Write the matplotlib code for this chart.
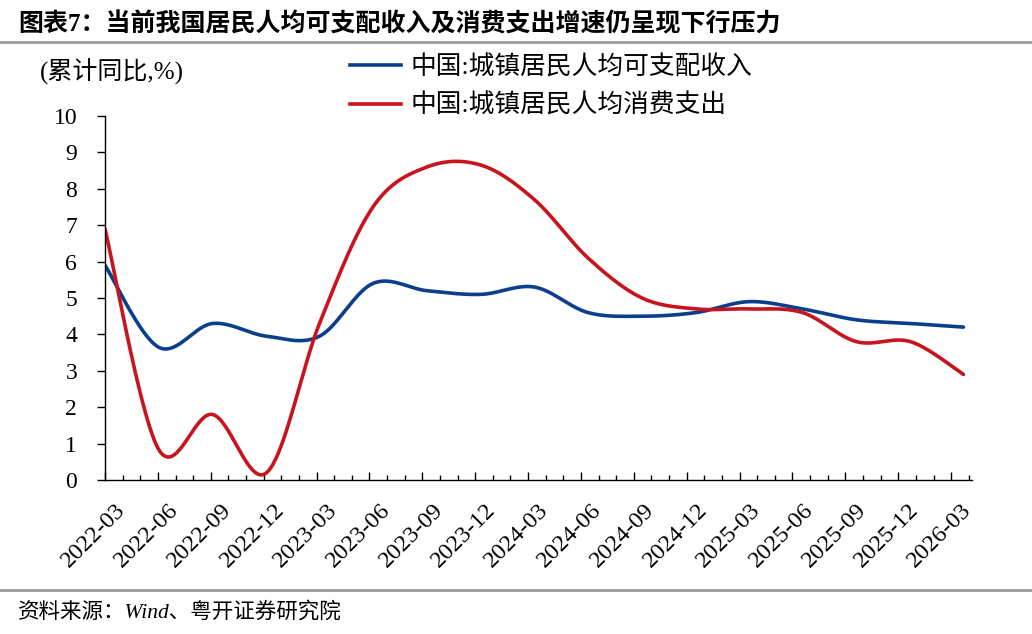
import numpy as np
import pandas as pd
import matplotlib
matplotlib.use("Agg")
import matplotlib.pyplot as plt
from matplotlib.ticker import MultipleLocator, FixedLocator
from matplotlib.transforms import ScaledTranslation
from matplotlib.lines import Line2D

# quarterly data, cumulative yoy %
dates = pd.to_datetime([
    "2022-03-31", "2022-06-30", "2022-09-30", "2022-12-31",
    "2023-03-31", "2023-06-30", "2023-09-30", "2023-12-31",
    "2024-03-31", "2024-06-30", "2024-09-30", "2024-12-31",
    "2025-03-31", "2025-06-30", "2025-09-30", "2025-12-31",
    "2026-03-31",
])
income = [5.9, 3.65, 4.3, 3.95, 3.95, 5.4, 5.2, 5.1, 5.3, 4.6, 4.5, 4.6,
          4.9, 4.7, 4.4, 4.3, 4.2]
spending = [6.9, 0.85, 1.8, 0.2, 4.3, 7.5, 8.6, 8.65, 7.7, 6.1, 5.0, 4.7,
            4.7, 4.6, 3.8, 3.8, 2.9]
tick_labels = ["2022-03", "2022-06", "2022-09", "2022-12", "2023-03",
               "2023-06", "2023-09", "2023-12", "2024-03", "2024-06",
               "2024-09", "2024-12", "2025-03", "2025-06", "2025-09",
               "2025-12", "2026-03"]
series_names = ["中国:城镇居民人均可支配收入", "中国:城镇居民人均消费支出"]

BLUE = "#0b3f8c"
RED = "#c8141e"
FONTS = ["Liberation Serif", "Noto Sans CJK SC"]
plt.rcParams["font.family"] = FONTS


# excel-like smoothed line (catmull-rom)
def smooth(x, y, n=40):
    x = np.asarray(x, float)
    y = np.asarray(y, float)
    px = np.concatenate([[x[0]], x, [x[-1]]])
    py = np.concatenate([[y[0]], y, [y[-1]]])
    t = np.linspace(0, 1, n)
    h00 = 2*t**3 - 3*t**2 + 1
    h10 = t**3 - 2*t**2 + t
    h01 = -2*t**3 + 3*t**2
    h11 = t**3 - t**2
    xs, ys = [], []
    for i in range(1, len(px) - 2):
        mx0 = (px[i+1] - px[i-1]) / 2
        mx1 = (px[i+2] - px[i]) / 2
        my0 = (py[i+1] - py[i-1]) / 2
        my1 = (py[i+2] - py[i]) / 2
        xs.append(h00*px[i] + h10*mx0 + h01*px[i+1] + h11*mx1)
        ys.append(h00*py[i] + h10*my0 + h01*py[i+1] + h11*my1)
    return np.concatenate(xs), np.concatenate(ys)


days = (dates - dates[0]).days.values

fig = plt.figure(figsize=(10.32, 6.34), dpi=100)
ax = fig.add_axes([105/1032, 1 - 480/634, (971.7 - 105)/1032, (480 - 116)/634])

for vals, col in [(income, BLUE), (spending, RED)]:
    sx, sy = smooth(days, vals)
    ax.plot(sx, sy, color=col, lw=2.6, solid_capstyle="round")

ax.set_xlim(0, 1475)
ax.set_ylim(0, 10)
ax.xaxis.set_major_locator(FixedLocator(np.arange(len(tick_labels)) * 90))
ax.xaxis.set_minor_locator(MultipleLocator(30))
ax.set_xticklabels(tick_labels, rotation=45, ha="right", va="top",
                   rotation_mode="anchor", fontsize=17.5)
ax.yaxis.set_major_locator(MultipleLocator(1))
ax.tick_params(axis="x", which="major", direction="in", length=6, width=1,
               pad=14)
ax.tick_params(axis="x", which="minor", direction="in", length=3.5, width=1)
ax.tick_params(axis="y", direction="out", length=6, width=1, pad=14,
               labelsize=17)
for lab in ax.get_xticklabels():
    lab.set_transform(lab.get_transform() + ScaledTranslation(0.1, 0, fig.dpi_scale_trans))
for s in ["top", "right"]:
    ax.spines[s].set_visible(False)
for s in ["left", "bottom"]:
    ax.spines[s].set_linewidth(1)

# header / footer
fig.text(18/1032, 1 - 24/634, "图表7：当前我国居民人均可支配收入及消费支出增速仍呈现下行压力",
         fontsize=18, fontweight="bold", va="center", ha="left")
fig.add_artist(Line2D([0, 1], [1 - 42/634, 1 - 42/634], color="#9a9a9a", lw=2))
fig.add_artist(Line2D([0, 1], [1 - 590/634, 1 - 590/634], color="#9a9a9a", lw=2))
fig.text(18/1032, 1 - 612/634, "资料来源：Wind、粤开证券研究院", fontsize=15.5,
         style="italic", va="center", ha="left")
fig.text(40/1032, 1 - 72/634, "(累计同比,%)", fontsize=18, va="center", ha="left")

handles = [Line2D([], [], color=BLUE, lw=2.6), Line2D([], [], color=RED, lw=2.6)]
fig.legend(handles, series_names, loc="upper left",
           bbox_to_anchor=(350/1032, 1 - 55/634), frameon=False, fontsize=18.5,
           handlelength=2.0, handletextpad=0.35, labelspacing=0.55,
           borderaxespad=0, borderpad=0)

fig.savefig("out.png", dpi=100)
